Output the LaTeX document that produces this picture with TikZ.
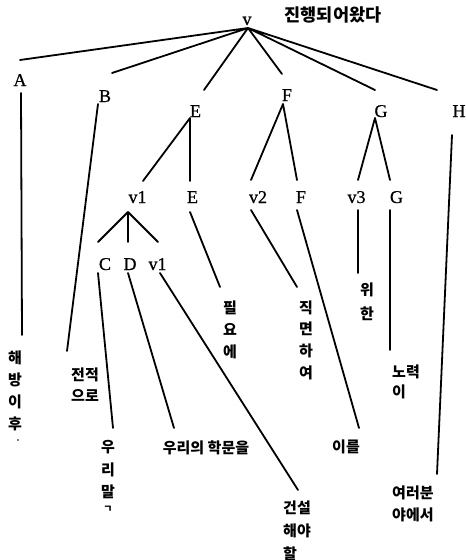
\documentclass[tikz,border=0pt]{standalone}
\usepackage{fontspec}
\setmainfont{Liberation Serif}
\newfontfamily\lat[FakeBold=0.7]{Liberation Serif}
\newfontfamily\kr{Noto Sans CJK KR}
\begin{document}
\begin{tikzpicture}[x=1pt,y=-1pt,
  lt/.style={font=\lat\fontsize{18}{20}\selectfont, inner sep=0pt, anchor=base},
  ko/.style={font=\kr\bfseries\fontsize{15}{22}\selectfont, inner sep=0pt, align=center},
  kl/.style={ko, align=left, anchor=west},
  br/.style={line width=1.8pt, line cap=round}]
\useasboundingbox (0,0) rectangle (466,560);

% category labels
\node[lt] (v)   at (247,25)  {v};
\node[lt] (A)   at (20,86)   {A};
\node[lt] (B)   at (105,102) {B};
\node[lt] (E)   at (195.5,117) {E};
\node[lt] (F)   at (287,101) {F};
\node[lt] (G)   at (381,117) {G};
\node[lt] (H)   at (459,117) {H};
\node[lt] (v1)  at (137.5,203) {v1};
\node[lt] (E2)  at (192.5,203) {E};
\node[lt] (v2)  at (258,203) {v2};
\node[lt] (F2)  at (301,203) {F};
\node[lt] (v3)  at (356.5,203) {v3};
\node[lt] (G2)  at (396.5,203) {G};
\node[lt] (C)   at (105,270) {C};
\node[lt] (D)   at (130,270) {D};
\node[lt] (v1b) at (157.5,270) {v1};

% words
\node[ko, font=\kr\bfseries\fontsize{17.5}{20}\selectfont] (wv) at (333,15) {진행되어왔다};
\node[ko] (wA)  at (15,391)  {해\\방\\이\\후};
\node[ko, font=\kr\bfseries\fontsize{15}{21}\selectfont] (wB) at (85,385) {전적\\으로};
\node[ko, font=\kr\bfseries\fontsize{15}{22.5}\selectfont] (wC) at (108,470) {우\\리\\말};
\node[ko, font=\kr\bfseries\fontsize{10}{12}\selectfont] (wC2) at (108,509) {ㄱ};
\node[ko] (wD)  at (206,448) {우리의 학문을};
\node[ko] (wE)  at (230,330) {필\\요\\에};
\node[ko, font=\kr\bfseries\fontsize{15}{21.7}\selectfont] (wv2) at (306,340) {직\\면\\하\\여};
\node[kl, font=\kr\bfseries\fontsize{15}{23}\selectfont] (wv1) at (283,531) {건설\\해야\\할};
\node[ko, font=\kr\bfseries\fontsize{15}{24}\selectfont] (wv3) at (367,302) {위\\한};
\node[ko] (wF)  at (346,447) {이를};
\node[kl, font=\kr\bfseries\fontsize{15}{20}\selectfont] (wG) at (392,382) {노력\\이};
\node[kl] (wH)  at (392,504) {여러분\\야에서};
\fill (18,440) circle (0.8);

% branch end points
\coordinate (vS)  at (248,28);
\coordinate (aN)  at (20,60);
\coordinate (bN)  at (112,73);
\coordinate (eN)  at (204,90);
\coordinate (fN)  at (282,74);
\coordinate (gN)  at (375,90);
\coordinate (hN)  at (437,90);
\coordinate (aS)  at (21,93);
\coordinate (aE)  at (22,335);
\coordinate (bS)  at (98,104);
\coordinate (bE)  at (67,351);
\coordinate (eS)  at (190,118);
\coordinate (v1N) at (143,181);
\coordinate (e2N) at (190,181);
\coordinate (fS)  at (283,104);
\coordinate (v2N) at (251,180);
\coordinate (f2N) at (297,180);
\coordinate (gS)  at (375,118);
\coordinate (v3N) at (358,180);
\coordinate (g2N) at (390,180);
\coordinate (hS)  at (452,135);
\coordinate (hE)  at (437,474);
\coordinate (v1S) at (128,212);
\coordinate (cN)  at (98,242);
\coordinate (dN)  at (128,242);
\coordinate (v1bN) at (158,242);
\coordinate (e2S) at (190,212);
\coordinate (e2E) at (220,287);
\coordinate (v2S) at (251,210);
\coordinate (v2E) at (297,287);
\coordinate (f2S) at (297,210);
\coordinate (f2E) at (359,428);
\coordinate (v3S) at (358,210);
\coordinate (v3E) at (358,273);
\coordinate (g2S) at (390,210);
\coordinate (g2E) at (390,350);
\coordinate (cS)  at (98,273);
\coordinate (cE)  at (113,428);
\coordinate (dS)  at (128,273);
\coordinate (dE)  at (174,428);
\coordinate (v1bS) at (160,273);
\coordinate (v1bE) at (298,490);

% tree branches
\draw[br] (vS) -- (aN)  (vS) -- (bN)  (vS) -- (eN)
          (vS) -- (fN)  (vS) -- (gN)  (vS) -- (hN);
\draw[br] (eS) -- (v1N) (eS) -- (e2N);
\draw[br] (fS) -- (v2N) (fS) -- (f2N);
\draw[br] (gS) -- (v3N) (gS) -- (g2N);
\draw[br] (v1S) -- (cN) (v1S) -- (dN) (v1S) -- (v1bN);

% lines down to the words
\draw[br] (aS) -- (aE);
\draw[br] (bS) -- (bE);
\draw[br] (hS) -- (hE);
\draw[br] (e2S) -- (e2E);
\draw[br] (v2S) -- (v2E);
\draw[br] (f2S) -- (f2E);
\draw[br] (v3S) -- (v3E);
\draw[br] (g2S) -- (g2E);
\draw[br] (cS) -- (cE);
\draw[br] (dS) -- (dE);
\draw[br] (v1bS) -- (v1bE);
\end{tikzpicture}
\end{document}
